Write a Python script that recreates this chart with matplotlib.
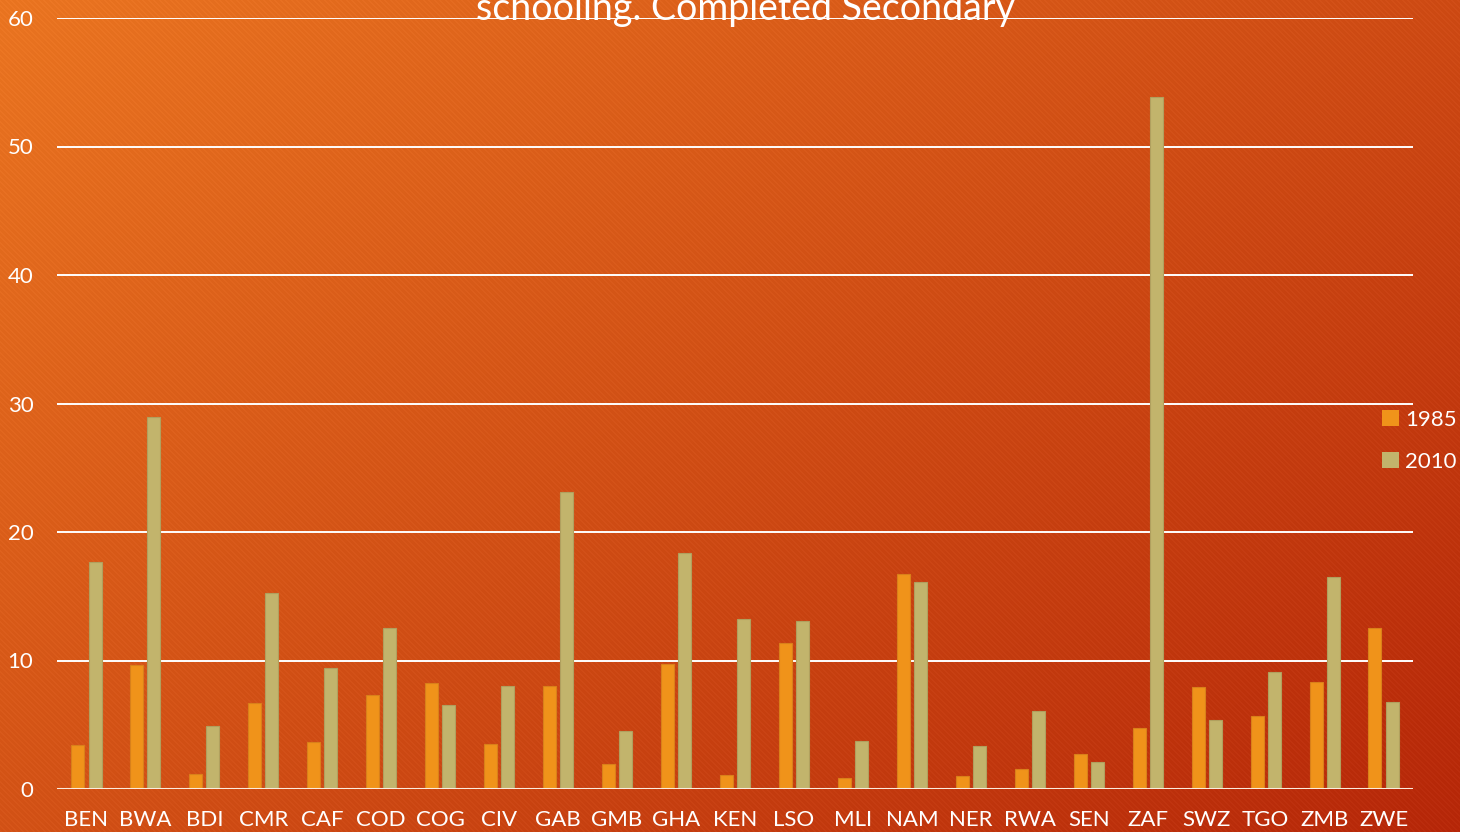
import numpy as np
import matplotlib
matplotlib.use("Agg")
import matplotlib.pyplot as plt
from matplotlib.patches import Patch

countries = ["BEN", "BWA", "BDI", "CMR", "CAF", "COD", "COG", "CIV", "GAB", "GMB", "GHA", "KEN",
             "LSO", "MLI", "NAM", "NER", "RWA", "SEN", "ZAF", "SWZ", "TGO", "ZMB", "ZWE"]
v1985 = [3.4, 9.65, 1.15, 6.7, 3.65, 7.3, 8.25, 3.5, 8.0, 1.95, 9.75, 1.1,
         11.4, 0.85, 16.75, 1.0, 1.55, 2.7, 4.75, 7.95, 5.7, 8.35, 12.55]
v2010 = [17.7, 28.95, 4.9, 15.25, 9.45, 12.5, 6.55, 8.0, 23.1, 4.5, 18.4, 13.2,
         13.1, 3.75, 16.1, 3.35, 6.1, 2.1, 53.85, 5.35, 9.1, 16.5, 6.75]
years = ["1985", "2010"]
yticks = [0, 10, 20, 30, 40, 50, 60]

W, H = 1460, 832
fig = plt.figure(figsize=(W / 100, H / 100), dpi=100)

# background: diagonal gradient with faint stripes
yy, xx = np.mgrid[0:H, 0:W]
t = (xx / W * 0.55 + yy / H * 0.45)
c0 = np.array([233, 116, 32]) / 255
c1 = np.array([181, 38, 8]) / 255
img = c0[None, None, :] * (1 - t[..., None]) + c1[None, None, :] * t[..., None]
stripes = (np.sin((xx + (H - yy)) * 2 * np.pi / 5.5) > 0.3).astype(float)
img = np.clip(img + stripes[..., None] * 0.018, 0, 1)
bg = fig.add_axes([0, 0, 1, 1])
bg.imshow(img, aspect="auto", extent=[0, 1, 0, 1])
bg.axis("off")

ax = fig.add_axes([57 / W, 1 - 789 / H, (1413 - 57) / W, (789 - 18) / H])
ax.set_facecolor("none")

x = np.arange(len(countries))
w = 0.22
off = 0.145
ax.bar(x - off, v1985, width=w, color="#F0931A", edgecolor="#D9801A", linewidth=0.8, zorder=3)
ax.bar(x + off, v2010, width=w, color="#C2B46C", edgecolor="#B0A05E", linewidth=0.8, zorder=3)

ax.set_xlim(-0.5, len(countries) - 0.5)
ax.set_ylim(0, 60)
ax.set_yticks(yticks)
ax.grid(axis="y", color="white", linewidth=1.4, zorder=1)
for s in ["top", "right", "left", "bottom"]:
    ax.spines[s].set_visible(False)
ax.axhline(0, color="#FBEBDD", linewidth=2.2, zorder=4)

ax.set_xticks(x)
ax.set_xticklabels(countries)
ax.tick_params(axis="both", length=0, colors="white", labelsize=16)
ax.tick_params(axis="x", pad=15)
ax.tick_params(axis="y", pad=17)
for lab in ax.get_xticklabels() + ax.get_yticklabels():
    lab.set_fontfamily("Lato")

fig.text(745 / W, 1 - 20 / H, "schooling. Completed Secondary", color="white",
         fontsize=27, ha="center", va="baseline", family="Lato")

handles = [Patch(facecolor="#F0931A", edgecolor="none"), Patch(facecolor="#C2B46C", edgecolor="none")]
leg = fig.legend(handles, years, loc="center right", bbox_to_anchor=(1457 / W, 1 - 441 / H),
                 frameon=False, handlelength=0.75, handleheight=0.75, handletextpad=0.3,
                 labelspacing=1.0, borderpad=0, borderaxespad=0,
                 prop={"family": "Lato", "size": 16})
for txt in leg.get_texts():
    txt.set_color("white")

fig.savefig("out.png", dpi=100)
